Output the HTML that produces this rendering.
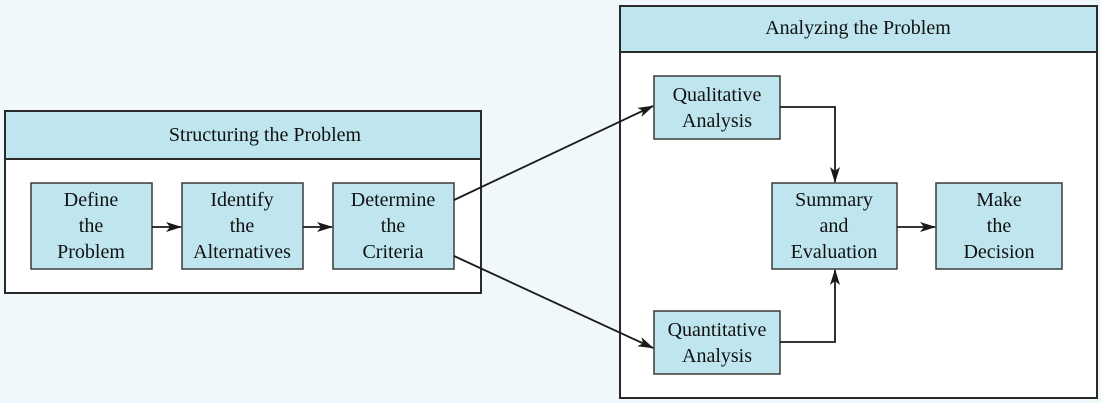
<!DOCTYPE html>
<html><head><meta charset="utf-8">
<style>
html,body{margin:0;padding:0;background:#f0f8fc;}
svg{display:block;}
svg text{font-family:"Liberation Serif","Times New Roman",Times,serif;font-size:20px;fill:#111;text-anchor:middle;}
</style></head>
<body>
<svg width="1101" height="403" viewBox="0 0 1101 403" xmlns="http://www.w3.org/2000/svg">
<defs>
<marker id="a" markerWidth="16" markerHeight="10" refX="15" refY="5" orient="auto" markerUnits="userSpaceOnUse">
<path d="M0,0 L16,5 L0,10 L4,5 Z" fill="#1a1a1a"/>
</marker>
</defs>
<g stroke="#2a2a2a" stroke-width="2">
<rect x="5" y="111" width="476" height="182" fill="#fff"/>
<rect x="5" y="111" width="476" height="48" fill="#bfe6ef"/>
<rect x="620" y="6" width="477" height="392" fill="#fff"/>
<rect x="620" y="6" width="477" height="46" fill="#bfe6ef"/>
</g>
<g stroke="#3a3a3a" stroke-width="1.5" fill="#bfe6ef">
<rect x="31" y="183" width="121" height="86"/>
<rect x="182" y="183" width="121" height="86"/>
<rect x="333" y="183" width="121" height="86"/>
<rect x="654" y="76" width="126" height="63"/>
<rect x="654" y="311" width="126" height="63"/>
<rect x="772" y="183" width="125" height="86"/>
<rect x="936" y="183" width="126" height="86"/>
</g>
<g stroke="#1a1a1a" stroke-width="1.8" fill="none">
<line x1="152" y1="227" x2="181" y2="227" marker-end="url(#a)"/>
<line x1="303" y1="227" x2="332" y2="227" marker-end="url(#a)"/>
<line x1="454" y1="200" x2="653" y2="106" marker-end="url(#a)"/>
<line x1="454" y1="256" x2="653" y2="348" marker-end="url(#a)"/>
<polyline points="780,107 835,107 835,182" marker-end="url(#a)"/>
<polyline points="780,342 835,342 835,270" marker-end="url(#a)"/>
<line x1="897" y1="227" x2="935" y2="227" marker-end="url(#a)"/>
</g>
<g font-family="Liberation Serif, Times New Roman, serif" font-size="20">
<text x="265" y="141">Structuring the Problem</text>
<text x="858" y="34">Analyzing the Problem</text>
<text x="91" y="206">Define</text><text x="91" y="232">the</text><text x="91" y="258">Problem</text>
<text x="242" y="206">Identify</text><text x="242" y="232">the</text><text x="242" y="258">Alternatives</text>
<text x="393" y="206">Determine</text><text x="393" y="232">the</text><text x="393" y="258">Criteria</text>
<text x="717" y="101">Qualitative</text><text x="717" y="127">Analysis</text>
<text x="717" y="336">Quantitative</text><text x="717" y="362">Analysis</text>
<text x="834" y="206">Summary</text><text x="834" y="232">and</text><text x="834" y="258">Evaluation</text>
<text x="999" y="206">Make</text><text x="999" y="232">the</text><text x="999" y="258">Decision</text>
</g>
</svg>
</body></html>
